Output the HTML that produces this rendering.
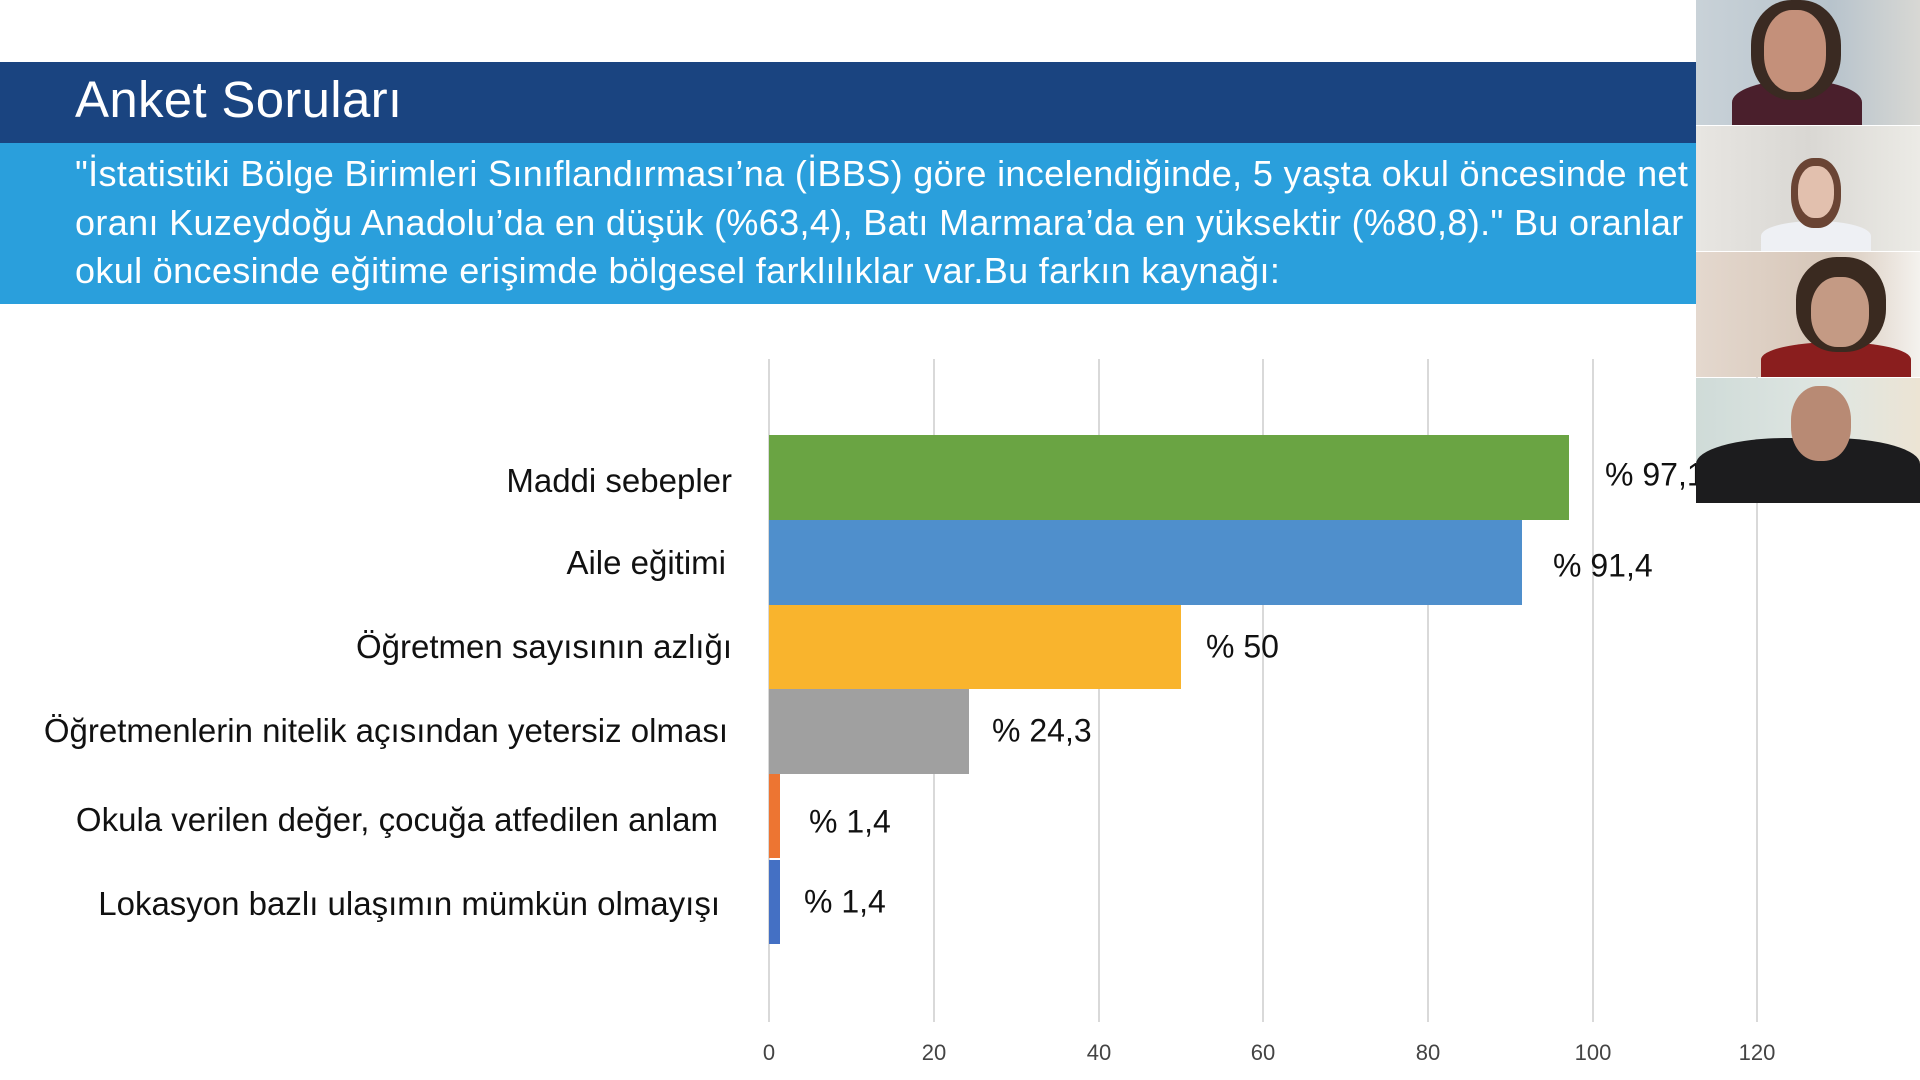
<!DOCTYPE html><html><head><meta charset="utf-8"><style>
body{margin:0;width:1920px;height:1080px;background:#fff;position:relative;overflow:hidden;font-family:"Liberation Sans","DejaVu Sans",sans-serif}
.a{position:absolute}
.lbl{position:absolute;right:1188px;font-size:33px;color:#111;white-space:nowrap;transform:translateY(-50%)}
.val{position:absolute;font-size:32px;color:#111;white-space:nowrap;transform:translateY(-50%)}
.g{position:absolute;top:359px;height:663px;width:2px;background:#d9d9d9}
.t{position:absolute;top:1040px;font-size:22px;color:#444;transform:translateX(-50%)}
</style></head><body>
<div class="a" style="left:0;top:62px;width:1696px;height:81px;background:#1a4480"></div>
<div class="a" style="left:75px;top:70px;font-size:51px;letter-spacing:0.3px;color:#fff">Anket Soruları</div>
<div class="a" style="left:0;top:143px;width:1696px;height:161px;background:#2a9fdc"></div>
<div class="a" style="left:75px;top:150px;font-size:36px;letter-spacing:0.35px;line-height:48.5px;color:#fff;white-space:nowrap;width:1621px;overflow:hidden">"İstatistiki Bölge Birimleri Sınıflandırması’na (İBBS) göre incelendiğinde, 5 yaşta okul öncesinde net<br>oranı Kuzeydoğu Anadolu’da en düşük (%63,4), Batı Marmara’da en yüksektir (%80,8)." Bu oranlar<br>okul öncesinde eğitime erişimde bölgesel farklılıklar var.Bu farkın kaynağı:</div>

<div class="g" style="left:768px"></div><div class="g" style="left:933px"></div><div class="g" style="left:1098px"></div><div class="g" style="left:1262px"></div><div class="g" style="left:1427px"></div><div class="g" style="left:1592px"></div><div class="g" style="left:1756px"></div>
<div class="t" style="left:769px">0</div><div class="t" style="left:934px">20</div><div class="t" style="left:1099px">40</div><div class="t" style="left:1263px">60</div><div class="t" style="left:1428px">80</div><div class="t" style="left:1593px">100</div><div class="t" style="left:1757px">120</div>

<div class="a" style="left:769px;top:435px;width:800px;height:85px;background:#6aa443"></div>
<div class="a" style="left:769px;top:520px;width:753px;height:85px;background:#4f8fcc"></div>
<div class="a" style="left:769px;top:605px;width:412px;height:84px;background:#f9b42d"></div>
<div class="a" style="left:769px;top:689px;width:200px;height:85px;background:#a0a0a0"></div>
<div class="a" style="left:769px;top:774px;width:11px;height:84px;background:#ed7532"></div>
<div class="a" style="left:769px;top:860px;width:11px;height:84px;background:#4470c4"></div>

<div class="lbl" style="top:481px">Maddi sebepler</div>
<div class="lbl" style="top:563px;right:1194px">Aile eğitimi</div>
<div class="lbl" style="top:647px">Öğretmen sayısının azlığı</div>
<div class="lbl" style="top:731px;right:1192px">Öğretmenlerin nitelik açısından yetersiz olması</div>
<div class="lbl" style="top:820px;right:1202px">Okula verilen değer, çocuğa atfedilen anlam</div>
<div class="lbl" style="top:904px;right:1200px">Lokasyon bazlı ulaşımın mümkün olmayışı</div>

<div class="val" style="left:1605px;top:475px">% 97,1</div>
<div class="val" style="left:1553px;top:566px">% 91,4</div>
<div class="val" style="left:1206px;top:647px">% 50</div>
<div class="val" style="left:992px;top:731px">% 24,3</div>
<div class="val" style="left:809px;top:822px">% 1,4</div>
<div class="val" style="left:804px;top:902px">% 1,4</div>

<div class="a" style="left:1696px;top:0;width:224px;height:125px;background:linear-gradient(90deg,#c9d2d8,#b7c3cc 60%,#d8d8d4)"><div class="a" style="left:36px;top:80px;width:130px;height:45px;border-radius:50% 50% 0 0;background:#4a1f2c"></div><div class="a" style="left:55px;top:0;width:90px;height:100px;border-radius:45%;background:#3a2a22"></div><div class="a" style="left:68px;top:10px;width:62px;height:82px;border-radius:45%;background:#c4907a"></div></div>
<div class="a" style="left:1696px;top:126px;width:224px;height:125px;background:linear-gradient(90deg,#e8e6e2,#d9d7d3 50%,#ecebe6)"><div class="a" style="left:65px;top:95px;width:110px;height:30px;border-radius:50% 50% 0 0;background:#eef0f4"></div><div class="a" style="left:95px;top:32px;width:50px;height:70px;border-radius:45%;background:#6a4434"></div><div class="a" style="left:102px;top:40px;width:36px;height:52px;border-radius:45%;background:#e2c0ae"></div></div>
<div class="a" style="left:1696px;top:252px;width:224px;height:125px;background:linear-gradient(90deg,#e4d8ce,#d6c6b8 60%,#f4f2ee)"><div class="a" style="left:65px;top:90px;width:150px;height:35px;border-radius:50% 50% 0 0;background:#8a1e1e"></div><div class="a" style="left:100px;top:5px;width:90px;height:95px;border-radius:45%;background:#3a2a20"></div><div class="a" style="left:115px;top:25px;width:58px;height:70px;border-radius:45%;background:#c49a84"></div></div>
<div class="a" style="left:1696px;top:378px;width:224px;height:125px;background:linear-gradient(90deg,#cfdbd8,#dfe6e2 60%,#ece4d4)"><div class="a" style="left:0;top:60px;width:224px;height:65px;border-radius:40% 40% 0 0;background:#1c1c1e"></div><div class="a" style="left:95px;top:8px;width:60px;height:75px;border-radius:45%;background:#b88a74"></div></div>
</body></html>
